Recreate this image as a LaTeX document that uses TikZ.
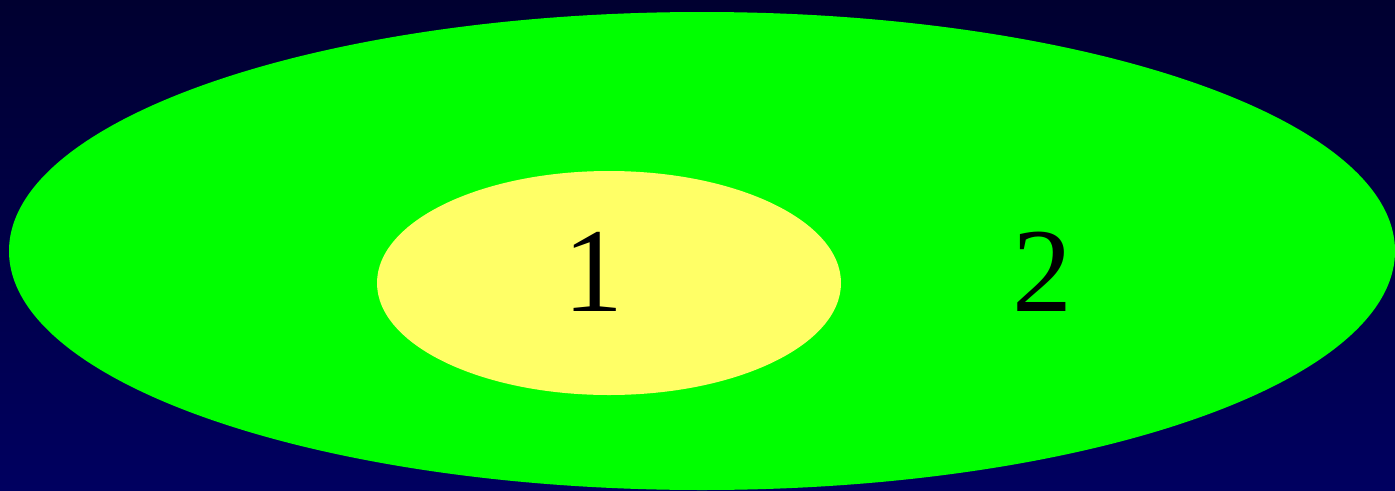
\documentclass[tikz,border=0pt]{standalone}
\usepackage{fontspec}
\setmainfont{Liberation Serif}
\usetikzlibrary{shapes.geometric}
\definecolor{bgtop}{HTML}{000030}
\definecolor{bgbot}{HTML}{000060}
\definecolor{outergreen}{HTML}{00FF00}
\definecolor{inneryellow}{HTML}{FFFF66}
\tikzset{
  region/.style={ellipse, inner sep=0pt, draw=none},
  numlabel/.style={font=\fontsize{120}{120}\selectfont, text=black, inner sep=0pt}
}
\begin{document}
\begin{tikzpicture}[x=1pt,y=-1pt]
\shade[top color=bgtop, bottom color=bgbot] (0,0) rectangle (1395,490);
\useasboundingbox (0,0) rectangle (1395,490);
\node[region, fill=outergreen, minimum width=1386pt, minimum height=478pt] (outer) at (702,251) {};
\node[region, fill=inneryellow, minimum width=464pt, minimum height=224pt] (inner) at (609,283) {};
\node[numlabel] (one) at (593,272) {1};
\node[numlabel] (two) at (1042,272) {2};
\end{tikzpicture}
\end{document}
